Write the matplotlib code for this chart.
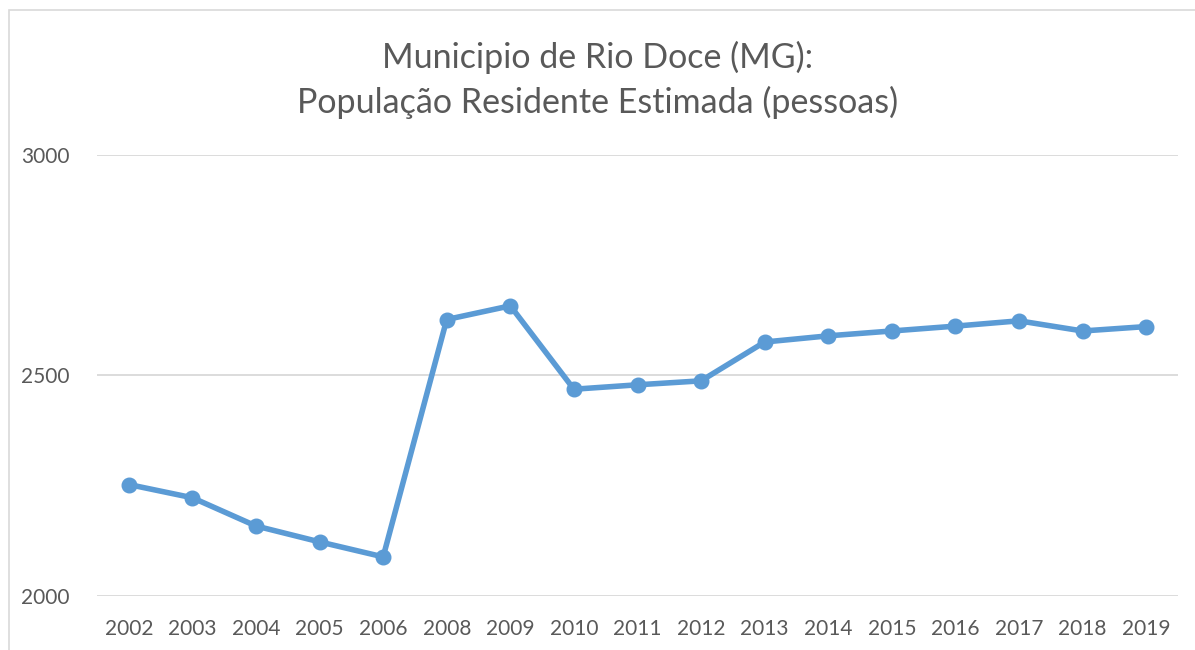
import matplotlib
matplotlib.use("Agg")
import matplotlib.pyplot as plt
from matplotlib.patches import Rectangle

years = ["2002", "2003", "2004", "2005", "2006", "2008", "2009", "2010", "2011",
         "2012", "2013", "2014", "2015", "2016", "2017", "2018", "2019"]
population = [2252, 2222, 2158, 2122, 2088, 2626, 2657, 2468, 2478,
              2487, 2575, 2589, 2600, 2611, 2623, 2600, 2610]
yticks = [2000, 2500, 3000]

plt.rcParams['font.family'] = ['Lato', 'DejaVu Sans']
W, H = 1195, 650
fig = plt.figure(figsize=(W / 100, H / 100), dpi=100)
fig.patch.set_facecolor('white')

# outer chart frame
fig.patches.append(Rectangle((9 / W, -0.1), 1.2, 1 - 10 / H + 0.1, transform=fig.transFigure,
                             fill=False, edgecolor='#D9D9D9', linewidth=1.2))

ax = fig.add_axes([97 / W, 1 - 595.7 / H, (1178 - 97) / W, (595.7 - 154.5) / H])
x = list(range(len(years)))
ax.plot(x, population, color='#5B9BD5', linewidth=4, marker='o', markersize=10.5,
        solid_capstyle='round', solid_joinstyle='round', zorder=3)
ax.set_xlim(-0.5, len(years) - 0.5)
ax.set_ylim(2000, 3000)
ax.set_yticks(yticks)
ax.set_xticks(x)
ax.set_xticklabels(years)
ax.grid(axis='y', color='#D9D9D9', linewidth=1.3)
ax.set_axisbelow(True)
for s in ax.spines.values():
    s.set_visible(False)
ax.tick_params(axis='both', length=0, colors='#595959', labelsize=15)
ax.tick_params(axis='x', pad=17)
ax.tick_params(axis='y', pad=20)

fig.text(0.5, 1 - 57 / H, "Municipio de Rio Doce (MG):", ha='center', va='center',
         fontsize=24.5, color='#595959')
fig.text(0.5, 1 - 102 / H, "População Residente Estimada (pessoas)", ha='center', va='center',
         fontsize=24.5, color='#595959')

fig.savefig("out.png", dpi=100, facecolor='white')
